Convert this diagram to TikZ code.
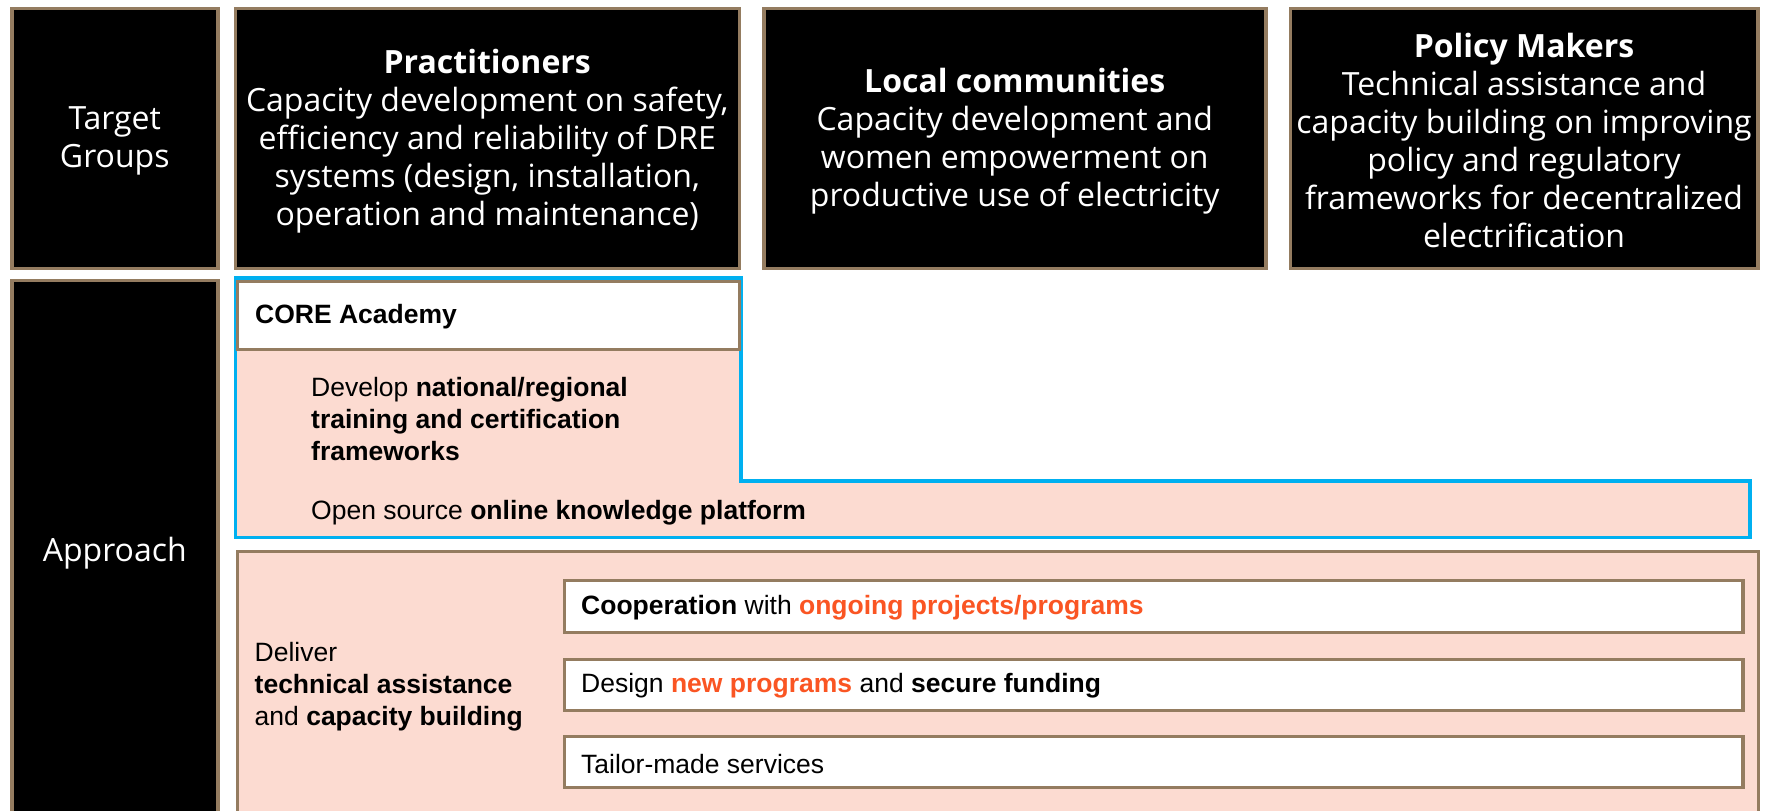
\documentclass[tikz,border=0pt]{standalone}
\usepackage{fontspec}
\setmainfont{Liberation Sans}
\newfontfamily\osans{Open Sans}
\definecolor{brownb}{RGB}{148,124,96}
\definecolor{cyanb}{RGB}{0,176,240}
\definecolor{pinkf}{RGB}{252,219,209}
\definecolor{orng}{RGB}{250,85,35}
\begin{document}
\begin{tikzpicture}[x=1pt,y=-1pt,
  blackbox/.style={draw=brownb, line width=3.5pt, fill=black, inner sep=0pt, anchor=north west},
  btext/.style={text=white, font=\osans\fontsize{32}{38}\selectfont, align=center, inner sep=0pt, yshift=-2.5pt},
  whitebox/.style={draw=brownb, line width=3.5pt, fill=white, inner sep=0pt, anchor=north west},
  pinkbox/.style={draw=brownb, line width=3.5pt, fill=pinkf, inner sep=0pt, anchor=north west},
  lowtext/.style={font=\fontsize{26.5}{32}\selectfont, align=left, inner sep=0pt, anchor=west, text=black, yshift=-3pt}]
\useasboundingbox (0,0) rectangle (1767,811);
\fill[white] (0,0) rectangle (1767,811);
% top row
\node[blackbox, minimum width=206pt, minimum height=260pt] (tg) at (10,6.5) {};
\node[btext] (tgt) at (tg.center) {Target\\Groups};
\node[blackbox, minimum width=504pt, minimum height=260pt] (pr) at (233.5,6.5) {};
\node[btext] (prt) at (pr.center)
  {{\bfseries Practitioners}\\Capacity development on safety,\\efficiency and reliability of DRE\\systems (design, installation,\\operation and maintenance)};
\node[blackbox, minimum width=502pt, minimum height=260pt] (lc) at (762,6.5) {};
\node[btext] (lct) at (lc.center)
  {{\bfseries Local communities}\\Capacity development and\\women empowerment on\\productive use of electricity};
\node[blackbox, minimum width=467.5pt, minimum height=260pt] (pm) at (1288.5,6.5) {};
\node[btext] (pmt) at (pm.center)
  {{\bfseries Policy Makers}\\Technical assistance and\\capacity building on improving\\policy and regulatory\\frameworks for decentralized\\electrification};
% approach column
\node[blackbox, minimum width=206pt, minimum height=540pt] (ap) at (10,278.5) {};
\node[btext] (apt) at (ap.center) {Approach};
% CORE academy L-shape
\draw[cyanb, line width=3.5pt, fill=pinkf] (235.5,278) -- (741,278) -- (741,481) -- (1750,481) -- (1750,537.5) -- (235.5,537.5) -- cycle;
\node[whitebox, minimum width=502pt, minimum height=68pt] (core) at (235.5,279.5) {};
\node[lowtext] (coret) at (255,314) {\textbf{CORE Academy}};
\node[lowtext] (dev) at (311,416) {Develop \textbf{national/regional}\\\textbf{training and certification}\\\textbf{frameworks}};
\node[lowtext] (osp) at (311,510) {Open source \textbf{online knowledge platform}};
% delivery
\node[pinkbox, minimum width=1521pt, minimum height=285pt] (del) at (235.5,549.5) {};
\node[lowtext] (delt) at (254.5,684) {Deliver\\\textbf{technical assistance}\\and \textbf{capacity building}};
\node[whitebox, minimum width=1178.5pt, minimum height=52pt] (b1) at (562.5,578.5) {};
\node[whitebox, minimum width=1178.5pt, minimum height=51pt] (b2) at (562.5,657.5) {};
\node[whitebox, minimum width=1178.5pt, minimum height=51pt] (b3) at (562.5,734.5) {};
\node[lowtext] (b1t) at (581,605) {\textbf{Cooperation} with \textcolor{orng}{\textbf{ongoing projects/programs}}};
\node[lowtext] (b2t) at (581,683) {Design \textcolor{orng}{\textbf{new programs}} and \textbf{secure funding}};
\node[lowtext] (b3t) at (581,761) {Tailor-made services};
\end{tikzpicture}
\end{document}
